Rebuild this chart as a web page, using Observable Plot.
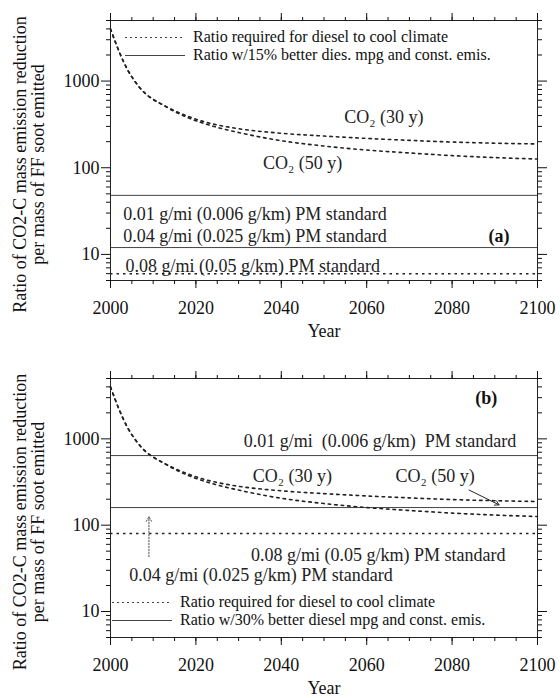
<!DOCTYPE html>
<html><head><meta charset="utf-8">
<script src="https://cdn.jsdelivr.net/npm/d3@7"></script>
<script src="https://cdn.jsdelivr.net/npm/@observablehq/plot@0.6"></script>
<style>
body{margin:0;background:#fff;}
#wrap{position:relative;width:560px;height:698px;font-family:"Liberation Serif","Times New Roman",Times,serif;color:#111;}
.panel{position:absolute;left:0;}
.legend{position:absolute;font-size:16px;line-height:18px;}
.legend .row{display:flex;align-items:center;white-space:nowrap;height:18px;}
.legend svg{margin-right:8px;}
</style></head><body><div id="wrap"></div>
<script>
// ---- data ----
const years  = [2000, 2002, 2004, 2006, 2008, 2010, 2012, 2015, 2018, 2021, 2025, 2030, 2040, 2050, 2060, 2070, 2080, 2090, 2100];
const co2_30 = [4000, 2200, 1350, 950, 730, 615, 540, 455, 395, 350, 312, 282, 250, 232, 218, 207, 198, 192, 188];
const co2_50 = [4000, 2200, 1350, 950, 730, 615, 540, 445, 380, 335, 292, 255, 205, 178, 160, 148, 138, 131, 126];

const pmSolidA  = [48, 12];
const pmDashedA = [6];
const pmSolidB  = [640, 160];
const pmDashedB = [80];

const xTickLabels = [2000, 2020, 2040, 2060, 2080, 2100];
const xMinorTicks = [2000, 2005, 2010, 2015, 2020, 2025, 2030, 2035, 2040, 2045, 2050, 2055, 2060, 2065, 2070, 2075, 2080, 2085, 2090, 2095, 2100];
const yTickLabels = [10, 100, 1000];
const yMinorTicks = [5, 6, 7, 8, 9, 20, 30, 40, 50, 60, 70, 80, 90, 200, 300, 400, 500, 600, 700, 800, 900, 2000, 3000, 4000, 5000];

const yLabel = "Ratio of CO2-C mass emission reduction\nper mass of FF soot emitted";
const xLabel = "Year";

const legendA = ["Ratio required for diesel to cool climate", "Ratio w/15% better dies. mpg and const. emis."];
const legendB = ["Ratio required for diesel to cool climate", "Ratio w/30% better diesel mpg and const. emis."];

const notesA = [
  {t: "CO₂ (30 y)", x: 2064, y: 385, a: "middle"},
  {t: "CO₂ (50 y)", x: 2045, y: 114, a: "middle"},
  {t: "0.01 g/mi (0.006 g/km) PM standard", x: 2003, y: 29, a: "start"},
  {t: "0.04 g/mi (0.025 g/km) PM standard", x: 2003, y: 16, a: "start"},
  {t: "0.08 g/mi (0.05 g/km) PM standard", x: 2003.5, y: 7.35, a: "start"}
];
const panelTagA = [{t: "(a)", x: 2091, y: 16}];

const notesB = [
  {t: "0.01 g/mi  (0.006 g/km)  PM standard", x: 2095, y: 930, a: "end"},
  {t: "CO₂ (30 y)", x: 2042.6, y: 365, a: "middle"},
  {t: "CO₂ (50 y)", x: 2076, y: 365, a: "middle"},
  {t: "0.08 g/mi (0.05 g/km) PM standard", x: 2092.5, y: 45, a: "end"},
  {t: "0.04 g/mi (0.025 g/km) PM standard", x: 2004.4, y: 26, a: "start"}
];
const panelTagB = [{t: "(b)", x: 2088, y: 2980}];
const arrowsSolidB = [{x1: 2084, y1: 255, x2: 2091, y2: 172}];
const arrowsDottedB = [{x1: 2009, y1: 43, x2: 2009, y2: 125}];

// ---- build ----
const s30 = years.map((yr, i) => ({year: yr, v: co2_30[i]}));
const s50 = years.map((yr, i) => ({year: yr, v: co2_50[i]}));
const FONT = "'Liberation Serif', 'Times New Roman', Times, serif";
const FS = 18;

function axes() {
  const out = [];
  for (const anchor of ["bottom", "top"]) {
    out.push(Plot.axisX({anchor, ticks: xMinorTicks, tickSize: 4, tickFormat: () => "", label: null}));
    out.push(Plot.axisX({anchor, ticks: xTickLabels, tickSize: 8, tickPadding: 13,
      tickFormat: anchor === "bottom" ? (d => String(d)) : (() => ""), label: null, fontSize: FS}));
  }
  for (const anchor of ["left", "right"]) {
    out.push(Plot.axisY({anchor, ticks: yMinorTicks, tickSize: 4, tickFormat: () => "", label: null}));
    out.push(Plot.axisY({anchor, ticks: yTickLabels, tickSize: 9, tickPadding: 2,
      tickFormat: anchor === "left" ? (d => String(d)) : (() => ""), label: null, fontSize: FS}));
  }
  return out;
}

function textGroups(notes) {
  return ["start", "middle", "end"].map(a =>
    Plot.text(notes.filter(n => n.a === a), {x: "x", y: "y", text: "t", textAnchor: a, fontSize: FS, fill: "#222"}));
}

function panel({height, marginTop, marginBottom, solid, dashed, notes, tag, extra}) {
  return Plot.plot({
    width: 560, height, marginTop, marginBottom, marginLeft: 110, marginRight: 23,
    style: {fontFamily: FONT, fontSize: FS + "px", color: "#111", background: "transparent"},
    x: {domain: [2000, 2100]},
    y: {type: "log", domain: [5, 5000]},
    marks: [
      Plot.ruleY(solid, {stroke: "#444", strokeWidth: 1}),
      Plot.ruleY(dashed, {stroke: "#222", strokeWidth: 1.5, strokeDasharray: "2.5,4"}),
      Plot.line(s30, {x: "year", y: "v", stroke: "#222", strokeWidth: 1.6, strokeDasharray: "2.5,4", curve: "monotone-x"}),
      Plot.line(s50, {x: "year", y: "v", stroke: "#222", strokeWidth: 1.6, strokeDasharray: "2.5,4", curve: "monotone-x"}),
      ...textGroups(notes),
      Plot.text(tag, {x: "x", y: "y", text: "t", fontSize: FS, fontWeight: "bold", fill: "#111"}),
      ...(extra || []),
      Plot.frame({stroke: "#222"}),
      ...axes(),
      Plot.text([xLabel], {frameAnchor: "bottom", dy: 56, fontSize: FS, fill: "#111"}),
      Plot.text([yLabel], {frameAnchor: "left", textAnchor: "middle", rotate: -90, dx: -81, dy: 14, fontSize: FS, lineHeight: 1.0, fill: "#111"})
    ]
  });
}

const wrap = document.getElementById("wrap");

const pA = panel({height: 350, marginTop: 20, marginBottom: 70, solid: pmSolidA, dashed: pmDashedA, notes: notesA, tag: panelTagA});
pA.classList.add("panel"); pA.style.top = "0px";
wrap.appendChild(pA);

const pB = panel({height: 348, marginTop: 28, marginBottom: 61, solid: pmSolidB, dashed: pmDashedB, notes: notesB, tag: panelTagB,
  extra: [
    Plot.arrow(arrowsSolidB, {x1: "x1", y1: "y1", x2: "x2", y2: "y2", stroke: "#222", strokeWidth: 1, headLength: 7}),
    Plot.arrow(arrowsDottedB, {x1: "x1", y1: "y1", x2: "x2", y2: "y2", stroke: "#555", strokeWidth: 1, strokeDasharray: "1.5,1.5", headLength: 8})
  ]});
pB.classList.add("panel"); pB.style.top = "350px";
wrap.appendChild(pB);

function legend(items, left, top) {
  const div = document.createElement("div");
  div.className = "legend";
  div.style.left = left + "px"; div.style.top = top + "px";
  items.forEach((label, i) => {
    const row = document.createElement("div"); row.className = "row";
    const dash = i === 0 ? 'stroke-dasharray="2,3"' : "";
    row.innerHTML = `<svg width="60" height="16"><line x1="0" x2="60" y1="8.5" y2="8.5" stroke="#444" stroke-width="1" ${dash}/></svg><span>${label}</span>`;
    div.appendChild(row);
  });
  wrap.appendChild(div);
}
legend(legendA, 125, 28);
legend(legendB, 112, 593);
</script></body></html>
